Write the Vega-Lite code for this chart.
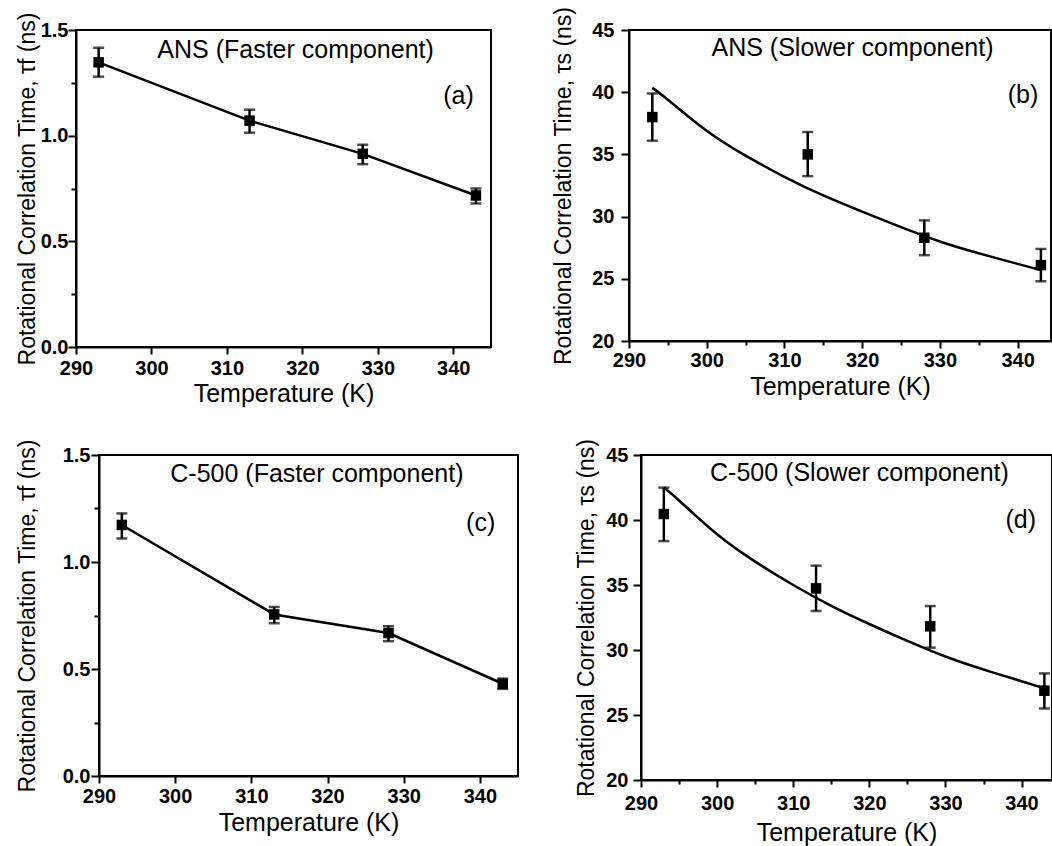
{
  "$schema": "https://vega.github.io/schema/vega-lite/v6.json",
  "padding": {"left": 0, "top": 5, "right": 0, "bottom": 0},
  "background": "white",
  "config": {
    "font": "Liberation Sans",
    "view": {"stroke": "black", "strokeWidth": 2},
    "axis": {
      "grid": false,
      "domainColor": "black",
      "domainWidth": 2,
      "tickColor": "black",
      "tickWidth": 2,
      "labelColor": "black",
      "titleColor": "black",
      "labelFont": "Liberation Sans",
      "titleFont": "Liberation Sans",
      "labelFontSize": 20,
      "labelFontWeight": "bold",
      "titleFontWeight": "normal",
      "labelOverlap": false,
      "labelFlush": false
    },
    "text": {"font": "Liberation Sans", "fontSize": 25, "color": "black", "baseline": "middle", "align": "center"}
  },
  "datasets": {
    "pts": [
      {"panel": "a", "T": 293, "tau": 1.347, "lo": 1.279, "hi": 1.416},
      {"panel": "a", "T": 313, "tau": 1.071, "lo": 1.014, "hi": 1.123},
      {"panel": "a", "T": 328, "tau": 0.914, "lo": 0.865, "hi": 0.957},
      {"panel": "a", "T": 343, "tau": 0.717, "lo": 0.679, "hi": 0.75},
      {"panel": "b", "T": 293, "tau": 38.0, "lo": 36.1, "hi": 39.9},
      {"panel": "b", "T": 313, "tau": 35.0, "lo": 33.25, "hi": 36.8},
      {"panel": "b", "T": 328, "tau": 28.3, "lo": 26.9, "hi": 29.7},
      {"panel": "b", "T": 343, "tau": 26.1, "lo": 24.8, "hi": 27.4},
      {"panel": "c", "T": 293, "tau": 1.173, "lo": 1.11, "hi": 1.227},
      {"panel": "c", "T": 313, "tau": 0.755, "lo": 0.714, "hi": 0.79},
      {"panel": "c", "T": 328, "tau": 0.668, "lo": 0.63, "hi": 0.7},
      {"panel": "c", "T": 343, "tau": 0.431, "lo": 0.407, "hi": 0.455},
      {"panel": "d", "T": 293, "tau": 40.46, "lo": 38.38, "hi": 42.49},
      {"panel": "d", "T": 313, "tau": 34.74, "lo": 33.0, "hi": 36.49},
      {"panel": "d", "T": 328, "tau": 31.82, "lo": 30.18, "hi": 33.38},
      {"panel": "d", "T": 343, "tau": 26.87, "lo": 25.5, "hi": 28.2}
    ],
    "fit": [
      {"panel": "b", "T": 293, "tau": 40.35},
      {"panel": "b", "T": 295, "tau": 39.4},
      {"panel": "b", "T": 300, "tau": 36.9},
      {"panel": "b", "T": 305, "tau": 34.9},
      {"panel": "b", "T": 310, "tau": 33.2},
      {"panel": "b", "T": 315, "tau": 31.7},
      {"panel": "b", "T": 320, "tau": 30.4},
      {"panel": "b", "T": 325, "tau": 29.15},
      {"panel": "b", "T": 330, "tau": 28.0},
      {"panel": "b", "T": 335, "tau": 27.05},
      {"panel": "b", "T": 340, "tau": 26.2},
      {"panel": "b", "T": 343, "tau": 25.7},
      {"panel": "d", "T": 293, "tau": 42.5},
      {"panel": "d", "T": 295, "tau": 41.5},
      {"panel": "d", "T": 300, "tau": 38.9},
      {"panel": "d", "T": 305, "tau": 36.8},
      {"panel": "d", "T": 310, "tau": 35.0},
      {"panel": "d", "T": 315, "tau": 33.4},
      {"panel": "d", "T": 320, "tau": 32.0},
      {"panel": "d", "T": 325, "tau": 30.7},
      {"panel": "d", "T": 330, "tau": 29.5},
      {"panel": "d", "T": 335, "tau": 28.5},
      {"panel": "d", "T": 340, "tau": 27.6},
      {"panel": "d", "T": 343, "tau": 27.05}
    ],
    "labels": [
      {"panel": "a", "title": "ANS (Faster component)", "tag": "(a)"},
      {"panel": "b", "title": "ANS (Slower component)", "tag": "(b)"},
      {"panel": "c", "title": "C-500 (Faster component)", "tag": "(c)"},
      {"panel": "d", "title": "C-500 (Slower component)", "tag": "(d)"}
    ],
    "empty": []
  },
  "columns": 4,
  "align": "none",
  "spacing": {"row": 30, "column": 0},
  "concat": [
    {
      "width": 15, "height": 1, "view": {"stroke": null},
      "data": {"name": "empty"}, "mark": "point", "encoding": {}
    },
    {
      "width": 415,
      "height": 317,
      "layer": [
        {
          "data": {"name": "pts"},
          "transform": [{"filter": "datum.panel === 'a'"}],
          "mark": {"type": "line", "color": "black", "strokeWidth": 2.5},
          "encoding": {
            "x": {"field": "T", "type": "quantitative", "title": "Temperature (K)", "scale": {"domain": [290, 345], "nice": false, "zero": false},
              "axis": {"titleFontSize": 25, "values": [290, 295, 300, 305, 310, 315, 320, 325, 330, 335, 340, 345], "format": "d", "labelExpr": "datum.value % 10 === 0 ? datum.label : ''", "tickSize": {"condition": {"test": "datum.value % 10 === 0", "value": 7}, "value": 4}, "labelPadding": 4, "titlePadding": 3}},
            "y": {"field": "tau", "type": "quantitative", "title": "Rotational Correlation Time, τf (ns)", "scale": {"domain": [0, 1.5], "nice": false},
              "axis": {"titleFontSize": 23, "values": [0, 0.25, 0.5, 0.75, 1, 1.25, 1.5], "format": ".1f", "labelExpr": "datum.value % 0.5 === 0 ? datum.label : ''", "tickSize": {"condition": {"test": "datum.value % 0.5 === 0", "value": 8}, "value": 5}, "labelPadding": 0, "titlePadding": 1}}
          }
        },
        {
          "data": {"name": "pts"},
          "transform": [{"filter": "datum.panel === 'a'"}],
          "mark": {"type": "errorbar", "color": "black", "thickness": 2.5, "ticks": {"size": 11, "thickness": 2.5, "color": "black"}},
          "encoding": {"x": {"field": "T", "type": "quantitative", "title": "Temperature (K)"}, "y": {"field": "lo", "type": "quantitative", "title": "Rotational Correlation Time, τf (ns)"}, "y2": {"field": "hi"}}
        },
        {
          "data": {"name": "pts"},
          "transform": [{"filter": "datum.panel === 'a'"}],
          "mark": {"type": "square", "color": "black", "size": 110, "opacity": 1},
          "encoding": {"x": {"field": "T", "type": "quantitative", "title": "Temperature (K)"}, "y": {"field": "tau", "type": "quantitative", "title": "Rotational Correlation Time, τf (ns)"}}
        },
        {
          "data": {"name": "labels"},
          "transform": [{"filter": "datum.panel === 'a'"}],
          "mark": {"type": "text"},
          "encoding": {"x": {"datum": 319.1}, "y": {"datum": 1.407}, "text": {"field": "title"}}
        },
        {
          "data": {"name": "labels"},
          "transform": [{"filter": "datum.panel === 'a'"}],
          "mark": {"type": "text"},
          "encoding": {"x": {"datum": 340.7}, "y": {"datum": 1.19}, "text": {"field": "tag"}}
        }
      ]
    },
    {
      "width": 55, "height": 1, "view": {"stroke": null},
      "data": {"name": "empty"}, "mark": "point", "encoding": {}
    },
    {
      "width": 422,
      "height": 311,
      "layer": [
        {
          "data": {"name": "fit"},
          "transform": [{"filter": "datum.panel === 'b'"}],
          "mark": {"type": "line", "color": "black", "strokeWidth": 2.5, "interpolate": "natural"},
          "encoding": {
            "x": {"field": "T", "type": "quantitative", "title": "Temperature (K)", "scale": {"domain": [290, 344.3], "nice": false, "zero": false},
              "axis": {"titleFontSize": 25, "values": [290, 295, 300, 305, 310, 315, 320, 325, 330, 335, 340], "format": "d", "labelExpr": "datum.value % 10 === 0 ? datum.label : ''", "tickSize": {"condition": {"test": "datum.value % 10 === 0", "value": 7}, "value": 4}, "labelPadding": 2, "titlePadding": 4}},
            "y": {"field": "tau", "type": "quantitative", "title": "Rotational Correlation Time, τs (ns)", "scale": {"domain": [20, 45], "nice": false, "zero": false},
              "axis": {"titleFontSize": 23, "values": [20, 22.5, 25, 27.5, 30, 32.5, 35, 37.5, 40, 42.5, 45], "format": "d", "labelExpr": "datum.value % 5 === 0 ? datum.label : ''", "tickSize": {"condition": {"test": "datum.value % 5 === 0", "value": 8}, "value": 5}, "labelPadding": 7, "titlePadding": 16}}
          }
        },
        {
          "data": {"name": "pts"},
          "transform": [{"filter": "datum.panel === 'b'"}],
          "mark": {"type": "errorbar", "color": "black", "thickness": 2.5, "ticks": {"size": 11, "thickness": 2.5, "color": "black"}},
          "encoding": {"x": {"field": "T", "type": "quantitative", "title": "Temperature (K)"}, "y": {"field": "lo", "type": "quantitative", "title": "Rotational Correlation Time, τs (ns)"}, "y2": {"field": "hi"}}
        },
        {
          "data": {"name": "pts"},
          "transform": [{"filter": "datum.panel === 'b'"}],
          "mark": {"type": "square", "color": "black", "size": 110, "opacity": 1},
          "encoding": {"x": {"field": "T", "type": "quantitative", "title": "Temperature (K)"}, "y": {"field": "tau", "type": "quantitative", "title": "Rotational Correlation Time, τs (ns)"}}
        },
        {
          "data": {"name": "labels"},
          "transform": [{"filter": "datum.panel === 'b'"}],
          "mark": {"type": "text"},
          "encoding": {"x": {"datum": 318.76}, "y": {"datum": 43.55}, "text": {"field": "title"}}
        },
        {
          "data": {"name": "labels"},
          "transform": [{"filter": "datum.panel === 'b'"}],
          "mark": {"type": "text"},
          "encoding": {"x": {"datum": 340.7}, "y": {"datum": 39.8}, "text": {"field": "tag"}}
        }
      ]
    },
    {
      "width": 15, "height": 1, "view": {"stroke": null},
      "data": {"name": "empty"}, "mark": "point", "encoding": {}
    },
    {
      "width": 419,
      "height": 321,
      "layer": [
        {
          "data": {"name": "pts"},
          "transform": [{"filter": "datum.panel === 'c'"}],
          "mark": {"type": "line", "color": "black", "strokeWidth": 2.5},
          "encoding": {
            "x": {"field": "T", "type": "quantitative", "title": "Temperature (K)", "scale": {"domain": [290, 345], "nice": false, "zero": false},
              "axis": {"titleFontSize": 25, "values": [290, 295, 300, 305, 310, 315, 320, 325, 330, 335, 340, 345], "format": "d", "labelExpr": "datum.value % 10 === 0 ? datum.label : ''", "tickSize": {"condition": {"test": "datum.value % 10 === 0", "value": 7}, "value": 4}, "labelPadding": 3, "titlePadding": 4}},
            "y": {"field": "tau", "type": "quantitative", "title": "Rotational Correlation Time, τf (ns)", "scale": {"domain": [0, 1.5], "nice": false},
              "axis": {"titleFontSize": 23, "values": [0, 0.25, 0.5, 0.75, 1, 1.25, 1.5], "format": ".1f", "labelExpr": "datum.value % 0.5 === 0 ? datum.label : ''", "tickSize": {"condition": {"test": "datum.value % 0.5 === 0", "value": 8}, "value": 5}, "labelPadding": 1, "titlePadding": 23}}
          }
        },
        {
          "data": {"name": "pts"},
          "transform": [{"filter": "datum.panel === 'c'"}],
          "mark": {"type": "errorbar", "color": "black", "thickness": 2.5, "ticks": {"size": 11, "thickness": 2.5, "color": "black"}},
          "encoding": {"x": {"field": "T", "type": "quantitative", "title": "Temperature (K)"}, "y": {"field": "lo", "type": "quantitative", "title": "Rotational Correlation Time, τf (ns)"}, "y2": {"field": "hi"}}
        },
        {
          "data": {"name": "pts"},
          "transform": [{"filter": "datum.panel === 'c'"}],
          "mark": {"type": "square", "color": "black", "size": 110, "opacity": 1},
          "encoding": {"x": {"field": "T", "type": "quantitative", "title": "Temperature (K)"}, "y": {"field": "tau", "type": "quantitative", "title": "Rotational Correlation Time, τf (ns)"}}
        },
        {
          "data": {"name": "labels"},
          "transform": [{"filter": "datum.panel === 'c'"}],
          "mark": {"type": "text"},
          "encoding": {"x": {"datum": 318.6}, "y": {"datum": 1.41}, "text": {"field": "title"}}
        },
        {
          "data": {"name": "labels"},
          "transform": [{"filter": "datum.panel === 'c'"}],
          "mark": {"type": "text"},
          "encoding": {"x": {"datum": 340.1}, "y": {"datum": 1.18}, "text": {"field": "tag"}}
        }
      ]
    },
    {
      "width": 55, "height": 1, "view": {"stroke": null},
      "data": {"name": "empty"}, "mark": "point", "encoding": {}
    },
    {
      "width": 411,
      "height": 325,
      "layer": [
        {
          "data": {"name": "fit"},
          "transform": [{"filter": "datum.panel === 'd'"}],
          "mark": {"type": "line", "color": "black", "strokeWidth": 2.5, "interpolate": "natural"},
          "encoding": {
            "x": {"field": "T", "type": "quantitative", "title": "Temperature (K)", "scale": {"domain": [290, 344], "nice": false, "zero": false},
              "axis": {"titleFontSize": 25, "values": [290, 295, 300, 305, 310, 315, 320, 325, 330, 335, 340], "format": "d", "labelExpr": "datum.value % 10 === 0 ? datum.label : ''", "tickSize": {"condition": {"test": "datum.value % 10 === 0", "value": 7}, "value": 4}, "labelPadding": 6, "titlePadding": 7}},
            "y": {"field": "tau", "type": "quantitative", "title": "Rotational Correlation Time, τs (ns)", "scale": {"domain": [20, 45], "nice": false, "zero": false},
              "axis": {"titleFontSize": 23, "values": [20, 22.5, 25, 27.5, 30, 32.5, 35, 37.5, 40, 42.5, 45], "format": "d", "labelExpr": "datum.value % 5 === 0 ? datum.label : ''", "tickSize": {"condition": {"test": "datum.value % 5 === 0", "value": 8}, "value": 5}, "labelPadding": 5, "titlePadding": 7}}
          }
        },
        {
          "data": {"name": "pts"},
          "transform": [{"filter": "datum.panel === 'd'"}],
          "mark": {"type": "errorbar", "color": "black", "thickness": 2.5, "ticks": {"size": 11, "thickness": 2.5, "color": "black"}},
          "encoding": {"x": {"field": "T", "type": "quantitative", "title": "Temperature (K)"}, "y": {"field": "lo", "type": "quantitative", "title": "Rotational Correlation Time, τs (ns)"}, "y2": {"field": "hi"}}
        },
        {
          "data": {"name": "pts"},
          "transform": [{"filter": "datum.panel === 'd'"}],
          "mark": {"type": "square", "color": "black", "size": 110, "opacity": 1},
          "encoding": {"x": {"field": "T", "type": "quantitative", "title": "Temperature (K)"}, "y": {"field": "tau", "type": "quantitative", "title": "Rotational Correlation Time, τs (ns)"}}
        },
        {
          "data": {"name": "labels"},
          "transform": [{"filter": "datum.panel === 'd'"}],
          "mark": {"type": "text"},
          "encoding": {"x": {"datum": 318.7}, "y": {"datum": 43.6}, "text": {"field": "title"}}
        },
        {
          "data": {"name": "labels"},
          "transform": [{"filter": "datum.panel === 'd'"}],
          "mark": {"type": "text"},
          "encoding": {"x": {"datum": 339.9}, "y": {"datum": 40.0}, "text": {"field": "tag"}}
        }
      ]
    }
  ]
}
